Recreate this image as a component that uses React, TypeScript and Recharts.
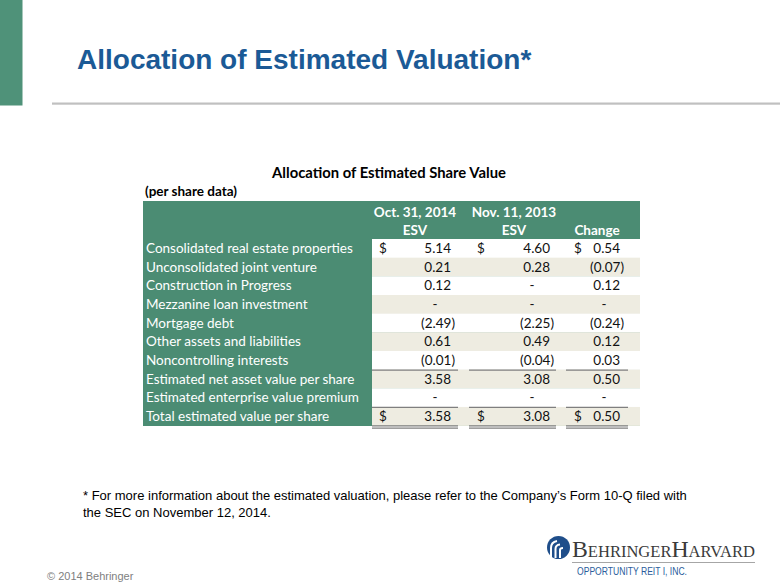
import React from "react";
import { ComposedChart, Bar, XAxis, YAxis } from "recharts";

// row labels and per share values (0 shows as "-")
const rowLabels = [
  "Consolidated real estate properties",
  "Unconsolidated joint venture",
  "Construction in Progress",
  "Mezzanine loan investment",
  "Mortgage debt",
  "Other assets and liabilities",
  "Noncontrolling interests",
  "Estimated net asset value per share",
  "Estimated enterprise value premium",
  "Total estimated value per share",
];
const oct2014 = [5.14, 0.21, 0.12, 0, -2.49, 0.61, -0.01, 3.58, 0, 3.58];
const nov2013 = [4.6, 0.28, 0, 0, -2.25, 0.49, -0.04, 3.08, 0, 3.08];
const change = [0.54, -0.07, 0.12, 0, -0.24, 0.12, 0.03, 0.5, 0, 0.5];

const headerTop = ["Oct. 31, 2014", "Nov. 11, 2013", ""];
const headerBottom = ["ESV", "ESV", "Change"];

const rows = rowLabels.map((label, i) => ({
  label,
  oct: oct2014[i],
  nov: nov2013[i],
  change: change[i],
}));

const GREEN = "#4b8c73";
const BEIGE = "#eeece1";
const CELL_FONT = "Lato, 'Open Sans', sans-serif";
const DOLLAR_ROWS = [0, 9];
const SUBTOTAL_ROWS = [7, 9];
const TOTAL_ROW = 9;

// column layout, offsets from the left edge of the value area
const columns = [
  { key: "oct", dollar: 7, numEnd: 79, dash: 63, rule: [0, 86], head: 43 },
  { key: "nov", dollar: 105, numEnd: 178, dash: 160, rule: [97, 184], head: 142 },
  { key: "change", dollar: 202, numEnd: 248, dash: 232, rule: [194, 256], head: 225 },
];

const fmt = (v: number) =>
  v === 0 ? "-" : v < 0 ? `(${Math.abs(v).toFixed(2)})` : v.toFixed(2);

const LabelTick = (props: any) => {
  const { y, payload } = props;
  return (
    <text x={146} y={y + 4.6} fill="#ffffff" fontSize={13.5} fontFamily={CELL_FONT}>
      {payload.value}
    </text>
  );
};

const renderRow = (props: any) => {
  const { x, y, width, height, payload } = props;
  const index = rowLabels.indexOf(payload.label);
  const base = y + height / 2 + 4.6;
  return (
    <g key={`row-${index}`}>
      <rect x={x} y={y} width={width} height={height} fill={index % 2 ? BEIGE : "#ffffff"} />
      {columns.map((c) => {
        const v = payload[c.key] as number;
        return (
          <g key={c.key}>
            {DOLLAR_ROWS.includes(index) && (
              <text x={x + c.dollar} y={base} fontSize={13.5} fontFamily={CELL_FONT} fill="#111">
                $
              </text>
            )}
            <text
              x={v === 0 ? x + c.dash : x + c.numEnd + (v < 0 ? 4 : 0)}
              y={base}
              textAnchor={v === 0 ? "middle" : "end"}
              fontSize={13.5}
              fontFamily={CELL_FONT}
              fill="#111"
            >
              {fmt(v)}
            </text>
            {SUBTOTAL_ROWS.includes(index) && (
              <line
                x1={x + c.rule[0]}
                x2={x + c.rule[1]}
                y1={y + 0.5}
                y2={y + 0.5}
                stroke="#7f7f7f"
                strokeWidth={1.2}
              />
            )}
            {index === TOTAL_ROW && (
              <>
                <line x1={x + c.rule[0]} x2={x + c.rule[1]} y1={y + height} y2={y + height} stroke="#7f7f7f" strokeWidth={1.2} />
                <line x1={x + c.rule[0]} x2={x + c.rule[1]} y1={y + height + 2.2} y2={y + height + 2.2} stroke="#7f7f7f" strokeWidth={1.2} />
              </>
            )}
          </g>
        );
      })}
    </g>
  );
};

const Logo = () => (
  <g>
    <circle cx={558.5} cy={547.5} r={11.5} fill="#1f4e8a" />
    <path d="M551 558 V548 Q551 542 557 541" stroke="#fff" strokeWidth={2} fill="none" />
    <path d="M555.5 558 V549 Q555.5 545 560 544.5" stroke="#fff" strokeWidth={2} fill="none" />
    <path d="M560 558 V550 Q560 548 563 548" stroke="#fff" strokeWidth={2} fill="none" />
    <text x={572} y={557} fontFamily="'Liberation Serif', 'DejaVu Serif', serif" fill="#3a3a3a" textLength={183} lengthAdjust="spacingAndGlyphs">
      <tspan fontSize={23}>B</tspan>
      <tspan fontSize={16}>EHRINGER</tspan>
      <tspan fontSize={23}>H</tspan>
      <tspan fontSize={16}>ARVARD</tspan>
    </text>
    <line x1={572} x2={755} y1={562.5} y2={562.5} stroke="#a6a6a6" strokeWidth={1} />
    <text x={577} y={575} fontSize={10.5} fontFamily="'Liberation Sans', Arial, sans-serif" fill="#2a5d9b" textLength={110} lengthAdjust="spacingAndGlyphs">
      OPPORTUNITY REIT I, INC.
    </text>
  </g>
);

export default function App() {
  return (
    <div style={{ position: "absolute", left: 0, top: 0, width: 780, height: 585, background: "#fff" }}>
      <svg width={780} height={585} style={{ position: "absolute", left: 0, top: 0 }}>
        <rect x={0} y={0} width={22.5} height={105.5} fill="#4f9279" />
        <rect x={52} y={102.5} width={728} height={2.2} fill="#c0c0c0" />
        <text x={77} y={69} fontSize={28} fontWeight="bold" fontFamily="'Liberation Sans', Arial, sans-serif" fill="#1b5a96">
          Allocation of Estimated Valuation*
        </text>
        <text x={389} y={178} textAnchor="middle" fontSize={14.8} fontWeight="bold" fontFamily={CELL_FONT} fill="#000">
          Allocation of Estimated Share Value
        </text>
        <text x={145} y={196} fontSize={13.5} fontWeight="bold" fontFamily={CELL_FONT} fill="#000">
          (per share data)
        </text>
        <rect x={143} y={201} width={497} height={225} fill={GREEN} />
        {columns.map((c, i) => (
          <g key={c.key}>
            <text x={372 + c.head} y={217} textAnchor="middle" fontSize={13.5} fontWeight="bold" fontFamily={CELL_FONT} fill="#fff">
              {headerTop[i]}
            </text>
            <text x={372 + c.head} y={235} textAnchor="middle" fontSize={13.5} fontWeight="bold" fontFamily={CELL_FONT} fill="#fff">
              {headerBottom[i]}
            </text>
          </g>
        ))}
        <text x={83} y={500} fontSize={13} fontFamily="'Liberation Sans', Arial, sans-serif" fill="#000">
          * For more information about the estimated valuation, please refer to the Company’s Form 10-Q filed with
        </text>
        <text x={83} y={517} fontSize={13} fontFamily="'Liberation Sans', Arial, sans-serif" fill="#000">
          the SEC on November 12, 2014.
        </text>
        <text x={47} y={580} fontSize={11} fontFamily="'Liberation Sans', Arial, sans-serif" fill="#808080">
          © 2014 Behringer
        </text>
        <Logo />
      </svg>
      <div style={{ position: "absolute", left: 0, top: 0 }}>
        <ComposedChart
          layout="vertical"
          width={780}
          height={585}
          data={rows}
          margin={{ top: 239, right: 140, bottom: 159.4, left: 143 }}
          barCategoryGap={0}
        >
          <XAxis type="number" hide domain={[-3, 6]} />
          <YAxis
            type="category"
            dataKey="label"
            width={229}
            axisLine={false}
            tickLine={false}
            interval={0}
            tick={<LabelTick />}
          />
          <Bar dataKey="oct" fill="none" minPointSize={2} isAnimationActive={false} background={renderRow} />
        </ComposedChart>
      </div>
    </div>
  );
}
